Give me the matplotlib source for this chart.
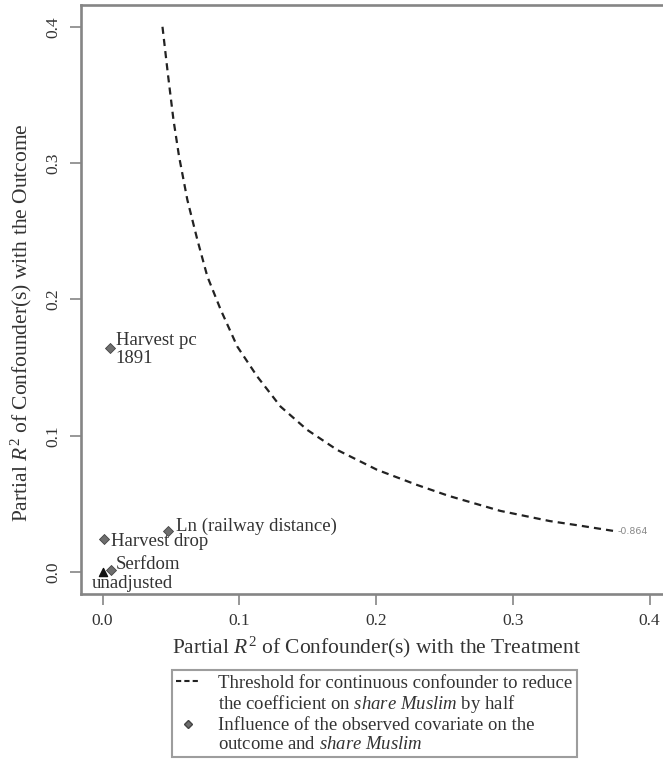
import numpy as np
import matplotlib
matplotlib.use("Agg")
import matplotlib.pyplot as plt
from matplotlib.lines import Line2D

plt.rcParams["font.family"] = ["Liberation Serif", "DejaVu Serif"]
plt.rcParams["mathtext.fontset"] = "custom"
plt.rcParams["mathtext.rm"] = "Liberation Serif"
plt.rcParams["mathtext.it"] = "Liberation Serif:italic"

# threshold contour
curve_x = [0.0438, 0.0478, 0.0518, 0.0559, 0.062, 0.0693, 0.0766, 0.0864,
           0.0985, 0.1131, 0.1301, 0.1496, 0.1715, 0.2007, 0.2299, 0.253,
           0.2907, 0.327, 0.35, 0.3734]
curve_y = [0.400, 0.365, 0.332, 0.305, 0.273, 0.2438, 0.2169, 0.1924,
           0.1655, 0.1435, 0.1215, 0.1044, 0.0897, 0.0751, 0.064, 0.056,
           0.045, 0.0375, 0.034, 0.0303]
contour_label = "-0.864"

# observed covariates
cov_names = ["Harvest pc\n1891", "Ln (railway distance)", "Harvest drop", "Serfdom"]
cov_x = [0.0053, 0.048, 0.0012, 0.0063]
cov_y = [0.1646, 0.0305, 0.0247, 0.0017]
unadj_x, unadj_y = 0.0, 0.0

ticks = [0.0, 0.1, 0.2, 0.3, 0.4]

txt_col = "#333333"
ax_col = "#858585"

fig = plt.figure(figsize=(6.63, 7.65), dpi=100)
ax = fig.add_axes([0.1217, 0.2235, 0.8912, 0.770])

ax.plot(curve_x, curve_y, color="#222222", lw=1.6, linestyle=(0, (3.2, 2.3)))
ax.annotate(contour_label, (curve_x[-1], curve_y[-1]), xytext=(4, -1),
            textcoords="offset pixels", ha="left", va="center",
            fontsize=6.8, color="#888888", family="DejaVu Sans")

ax.scatter(cov_x, cov_y, marker="D", s=26, color="#6e6e6e",
           edgecolors="#444444", linewidths=0.6, zorder=3)
ax.scatter([unadj_x], [unadj_y], marker="^", s=34, color="#111111", zorder=3)

offsets = [(6, -2), (8, 4), (7, -3), (5, 5)]
for name, x, y, off in zip(cov_names, cov_x, cov_y, offsets):
    ax.annotate(name, (x, y), xytext=off, textcoords="offset pixels",
                ha="left", va="center", fontsize=13.5, color=txt_col,
                linespacing=1.05)
ax.annotate("unadjusted", (unadj_x, unadj_y), xytext=(30, -11),
            textcoords="offset pixels", ha="center", va="center",
            fontsize=13.5, color=txt_col)

ax.set_xlim(-0.016, 0.416)
ax.set_ylim(-0.016, 0.416)
ax.set_xticks(ticks)
ax.set_yticks(ticks)
ax.set_xticklabels([f"{t:.1f}" for t in ticks])
ax.set_yticklabels([f"{t:.1f}" for t in ticks], rotation=90, va="center")
ax.tick_params(direction="out", length=8, width=1.2, color=ax_col,
               labelcolor=txt_col, labelsize=12.5, pad=6)
for side in ["left", "bottom", "top"]:
    ax.spines[side].set_color(ax_col)
    ax.spines[side].set_linewidth(1.9)
ax.spines["right"].set_visible(False)

ax.set_xlabel("Partial $R^2$ of Confounder(s) with the Treatment",
              fontsize=15.5, color=txt_col, labelpad=4)
ax.set_ylabel("Partial $R^2$ of Confounder(s) with the Outcome",
              fontsize=15.5, color=txt_col, labelpad=8)
ax.yaxis.label.set_y(0.46)

blank = Line2D([], [], linestyle="none")
handles = [
    Line2D([], [], color="#222222", lw=1.5, linestyle=(0, (2.5, 1.5))),
    blank,
    Line2D([], [], linestyle="none", marker="D", markersize=4.5,
           color="#6e6e6e", markeredgecolor="#444444"),
    blank,
]
labels = [
    "Threshold for continuous confounder to reduce",
    r"the coefficient on $\mathit{share\ Muslim}$ by half",
    "Influence of the observed covariate on the",
    r"outcome and $\mathit{share\ Muslim}$",
]
leg = fig.legend(handles, labels, loc="upper left",
                 bbox_to_anchor=(0.259, 0.124), bbox_transform=fig.transFigure,
                 borderaxespad=0, fontsize=13.5, frameon=True, fancybox=False,
                 handlelength=1.2, handletextpad=1.0, labelspacing=0.08,
                 borderpad=0.25, labelcolor=txt_col)
leg.get_frame().set_edgecolor(ax_col)
leg.get_frame().set_linewidth(1.5)

fig.savefig("out.png", dpi=100)
